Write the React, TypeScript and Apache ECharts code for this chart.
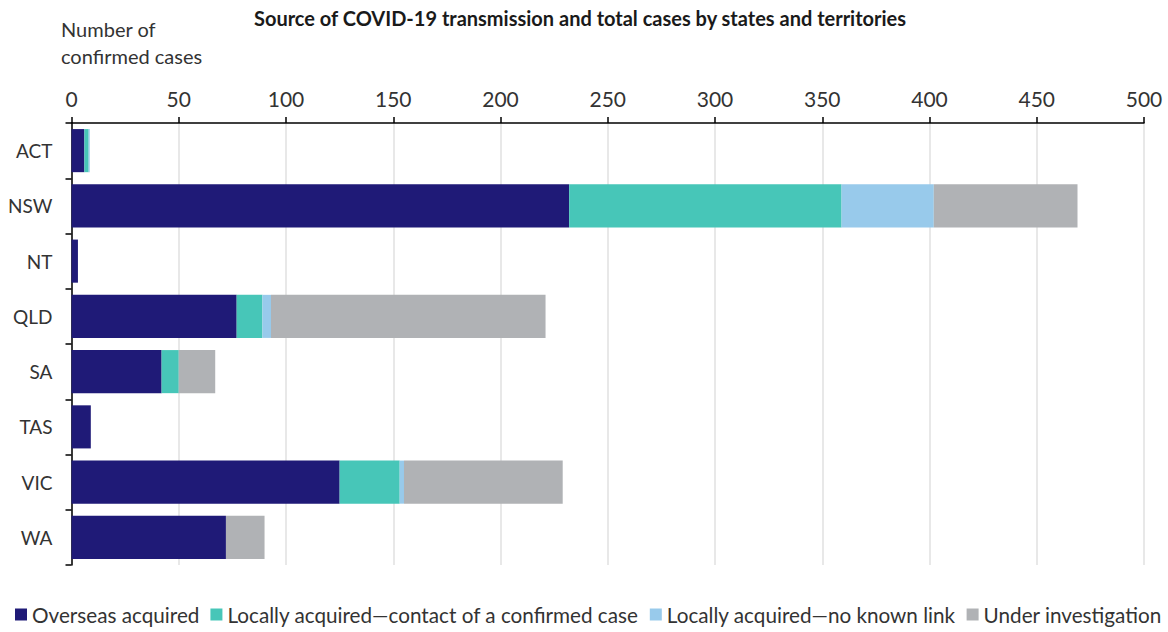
import React, { useEffect, useRef } from "react";
import * as echarts from "echarts";

const categories = ["ACT", "NSW", "NT", "QLD", "SA", "TAS", "VIC", "WA"];
const overseas = [6, 232, 3, 77, 42, 9, 125, 72];
const localContact = [2, 127, 0, 12, 8, 0, 28, 0];
const localNoLink = [0.5, 43, 0, 4, 0, 0, 2, 0];
const underInvestigation = [0, 67, 0, 128, 17, 0, 74, 18];
const seriesNames = [
  "Overseas acquired",
  "Locally acquired\u2014contact of a confirmed case",
  "Locally acquired\u2014no known link",
  "Under investigation",
];
const colors = ["#1f1a77", "#47c6b8", "#98caeb", "#b0b2b5"];

const FONT = "Lato, 'Noto Sans', sans-serif";

export default function App() {
  const ref = useRef<HTMLDivElement>(null);
  useEffect(() => {
    if (!ref.current) return;
    const chart = echarts.init(ref.current, undefined, { renderer: "svg" });
    const data = [overseas, localContact, localNoLink, underInvestigation];
    chart.setOption({
      animation: false,
      textStyle: { fontFamily: FONT },
      title: [
        {
          text: "Source of COVID-19 transmission and total cases by states and territories",
          left: 575,
          textAlign: "center",
          top: 3,
          textStyle: { fontSize: 20, fontWeight: "bold", color: "#1a1a1a", fontFamily: FONT },
        },
        {
          text: "Number of\nconfirmed cases",
          left: 56,
          top: 10,
          textStyle: { fontSize: 20, fontWeight: "normal", color: "#333", lineHeight: 27, fontFamily: FONT },
        },
      ],
      legend: {
        left: 10,
        bottom: 2,
        itemWidth: 12,
        itemHeight: 12,
        itemGap: 11,
        icon: "rect",
        textStyle: { fontSize: 20.7, color: "#333", fontFamily: FONT },
        data: seriesNames,
      },
      grid: { left: 71.5, right: 24, top: 123, bottom: 67, containLabel: false },
      xAxis: {
        type: "value",
        position: "top",
        min: 0,
        max: 500,
        interval: 50,
        axisLine: { show: true, lineStyle: { color: "#000", width: 1.5 } },
        axisTick: { show: true, length: 6, lineStyle: { color: "#000", width: 1.5 } },
        axisLabel: { fontSize: 21, color: "#333", margin: 14, fontFamily: FONT },
        splitLine: { show: true, lineStyle: { color: "#e0e0e0", width: 1.5 } },
      },
      yAxis: {
        type: "category",
        inverse: true,
        data: categories,
        axisLine: { show: true, lineStyle: { color: "#000", width: 1.5 } },
        axisTick: { show: true, length: 6, lineStyle: { color: "#000", width: 1.5 } },
        axisLabel: { fontSize: 19, color: "#333", margin: 19, fontFamily: FONT },
        splitLine: { show: false },
      },
      series: seriesNames.map((name, i) => ({
        name,
        type: "bar",
        stack: "total",
        barCategoryGap: "22%",
        data: data[i],
        itemStyle: { color: colors[i] },
      })),
    });
    return () => chart.dispose();
  }, []);
  return (
    <div
      ref={ref}
      style={{ width: 1168, height: 632, position: "fixed", left: 0, top: 0, background: "#fff" }}
    />
  );
}
